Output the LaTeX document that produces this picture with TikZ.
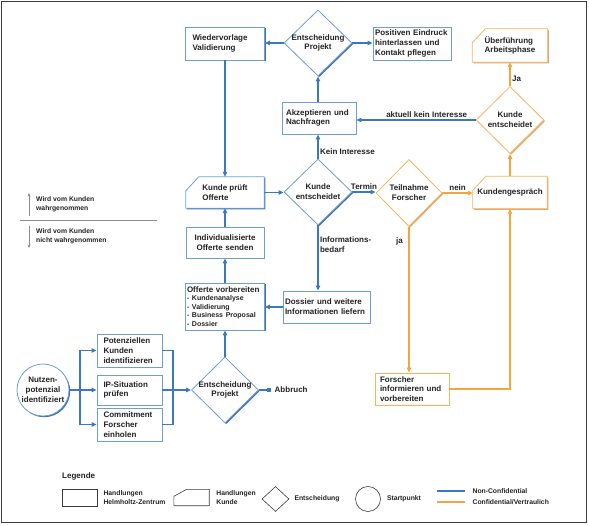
\documentclass[tikz,border=0pt]{standalone}
\usepackage{fontspec}
\setmainfont{Liberation Sans}
\usetikzlibrary{shapes.geometric, arrows.meta, shadows, backgrounds, positioning}

\definecolor{hzline}{HTML}{6F9ED3}
\definecolor{hzshade}{HTML}{3E73AF}
\definecolor{hzflow}{HTML}{3A79BD}
\definecolor{cfline}{HTML}{F6B45E}
\definecolor{cfshade}{HTML}{D9AB78}
\definecolor{cfflow}{HTML}{F4A63E}
\definecolor{txt}{HTML}{222222}
\definecolor{rahmen}{HTML}{3C3C3C}
\definecolor{hint}{HTML}{8C8C8C}

\begin{document}
\begin{tikzpicture}[
	x = 1pt, y = -1pt,
	every node/.style = {text = txt, font = \fontsize{8}{9.8}\selectfont\bfseries},
	formbase/.style = {fill = white, line width = 0.8pt},
	hz/.style = {formbase, draw = hzline, general shadow = {shadow xshift = 1.2pt, shadow yshift = -1.2pt, fill = hzshade}},
	cf/.style = {formbase, draw = cfline, general shadow = {shadow xshift = 1.2pt, shadow yshift = -1.2pt, fill = cfshade}},
	kasten/.style = {rectangle, align = left, inner ysep = 0pt},
	kunde/.style = {rectangle, align = left, inner sep = 0pt},
	decision/.style = {diamond, align = center, inner sep = -6pt, minimum width = 68pt, minimum height = 67pt},
	hzarrow/.style = {draw = hzflow, line width = 1.2pt, -{Triangle[length = 5pt, width = 4.5pt]}},
	cfarrow/.style = {hzarrow, draw = cfflow},
	lbl/.style = {inner sep = 1.5pt},
	legtext/.style = {align = left, inner sep = 0pt, font = \fontsize{6.8}{8.5}\selectfont\bfseries}
	]
	\useasboundingbox (0,0) rectangle (589,526);
	\draw[rahmen, line width = 1.5pt] (1.5,1.5) rectangle (586.5,522.5);

	% Blue part
	\node[hz, kasten, text width = 65pt, inner xsep = 7pt, minimum height = 33pt] (wv) at (225,43.5) {Wiedervorlage\\Validierung};
	\node[hz, decision, minimum height = 66pt] (ep1) at (318,43) {Entscheidung\\Projekt};
	\node[hz, kasten, text width = 74pt, inner xsep = 2pt, minimum height = 33pt] (pe) at (412,43.5) {Positiven Eindruck\\hinterlassen und\\Kontakt pflegen};
	\node[hz, kasten, text width = 66pt, inner xsep = 4pt, minimum height = 32pt] (ak) at (319,118) {Akzeptieren und\\Nachfragen};
	\node[kunde, minimum width = 78pt, minimum height = 31pt] (kp) at (225,192.5) {Kunde prüft\\Offerte};
	\node[hz, decision, minimum height = 66pt] (ke1) at (318,192) {Kunde\\entscheidet};
	\node[hz, kasten, align = center, text width = 70pt, inner xsep = 4pt, minimum height = 31pt] (io) at (225,242.5) {Individualisierte\\Offerte senden};
	\node[hz, kasten, text width = 76pt, inner xsep = 1.5pt, minimum height = 47pt, font = \fontsize{8}{8.4}\selectfont\bfseries] (ov) at (225,306.5) {Offerte vorbereiten\\\fontsize{7}{8.4}\selectfont - Kundenanalyse\\- Validierung\\- Business Proposal\\- Dossier};
	\node[hz, kasten, text width = 83pt, inner xsep = 2pt, minimum height = 32pt] (ds) at (326.5,307) {Dossier und weitere\\Informationen liefern};
	\node[hz, decision, minimum width = 67pt, minimum height = 66pt] (ep2) at (225,390) {Entscheidung\\Projekt};
	\node[hz, kasten, text width = 52pt, inner xsep = 6.5pt, minimum height = 33pt] (pk) at (129.5,350.5) {Potenziellen\\Kunden\\identifizieren};
	\node[hz, kasten, text width = 52pt, inner xsep = 6.5pt, minimum height = 30pt] (ip) at (129.5,390) {IP-Situation\\prüfen};
	\node[hz, kasten, text width = 52pt, inner xsep = 6.5pt, minimum height = 33pt] (cm) at (129.5,424.5) {Commitment\\Forscher\\einholen};
	\node[hz, circle, align = center, inner sep = 0pt, minimum size = 52pt] (nz) at (43,390) {Nutzen-\\potenzial\\identifiziert};

	% Orange part
	\node[kunde, minimum width = 75pt, minimum height = 33pt] (ua) at (510,45.5) {Überführung\\Arbeitsphase};
	\node[cf, decision] (ke2) at (510,120) {Kunde\\entscheidet};
	\node[cf, decision, minimum width = 66pt] (tf) at (409,193) {Teilnahme\\Forscher};
	\node[kunde, minimum width = 74pt, minimum height = 32pt] (kg) at (510,192.5) {Kundengespräch};
	\node[cf, kasten, text width = 64pt, inner xsep = 5pt, minimum height = 32pt] (fi) at (412,389) {Forscher\\informieren und\\vorbereiten};

	\begin{scope}[on background layer]
		\draw[hz] ([yshift = -14pt]kp.north west) -- ([xshift = 13pt]kp.north west) -- (kp.north east) -- (kp.south east) -- (kp.south west) -- cycle;
		\foreach \n in {ua, kg}
			\draw[cf] ([yshift = -14pt]\n.north west) -- ([xshift = 13pt]\n.north west) -- (\n.north east) -- (\n.south east) -- (\n.south west) -- cycle;
	\end{scope}

	\draw[hzarrow] (ep1.west) -- (ep1.west -| wv.east);
	\draw[hzarrow] (ep1.east) -- (ep1.east -| pe.west);
	\draw[hzarrow] (ep1.south |- ak.north) -- (ep1.south);
	\draw[hzarrow] (ke2.west) -- node[lbl, above, pos = 0.41] {aktuell kein Interesse} (ke2.west -| ak.east);
	\draw[hzarrow] (ke1.north) -- node[lbl, right, pos = 0.3] {Kein Interesse} (ke1.north |- ak.south);
	\draw[hzarrow] (wv.south) -- (kp.north);
	\draw[hzarrow] (io.north) -- (kp.south);
	\draw[hzarrow] (ov.north) -- (io.south);
	\draw[hzarrow] (ep2.north) -- (ov.south);
	\draw[hzarrow] (kp.east) -- (kp.east -| ke1.west);
	\draw[hzarrow] (ke1.east) -- node[lbl, above] {Termin} (ke1.east -| tf.west);
	\draw[hzarrow] (ke1.south) -- node[lbl, right, align = left, pos = 0.3] {Informations-\\bedarf} (ke1.south |- ds.north);
	\draw[hzarrow] (ds.west) -- (ds.west -| ov.east);

	\node[lbl, anchor = west] (ab) at (273,390) {Abbruch};
	\draw[hzarrow, -{Square[length = 4pt, width = 4pt]}, shorten > = 2pt] (ep2.east) -- (ab.west);

	\coordinate (fl) at (80,390);
	\coordinate (fr) at (173,390);
	\draw[hzarrow, -] (nz.east) -- (fl);
	\draw[hzarrow] (fl) |- (pk.west);
	\draw[hzarrow] (fl) -- (ip.west);
	\draw[hzarrow] (fl) |- (cm.west);
	\draw[hzarrow, -] (pk.east) -| (fr) |- (cm.east);
	\draw[hzarrow] (ip.east) -- (ep2.west);

	\draw[cfarrow] (tf.east) -- node[lbl, above] {nein} (tf.east -| kg.west);
	\draw[cfarrow] (kg.north) -- (ke2.south);
	\draw[cfarrow] (ke2.north) -- node[lbl, right, pos = 0.3] {Ja} (ua.south);
	\draw[cfarrow] (tf.south) -- node[lbl, left = 4pt, pos = 0.1] {ja} (tf.south |- fi.north);
	\draw[cfarrow] (fi.east) -| (kg.south);

	% wahrgenommen / nicht wahrgenommen
	\node[legtext, anchor = west, font = \fontsize{6.8}{9}\selectfont\bfseries] (wk) at (36,204.5) {Wird vom Kunden\\wahrgenommen};
	\node[legtext, anchor = west, font = \fontsize{6.8}{9}\selectfont\bfseries] (nwk) at (36,236.5) {Wird vom Kunden\\nicht wahrgenommen};
	\draw[hint, line width = 0.6pt, -{Stealth[length = 3.5pt, width = 3pt]}] (29,216) -- (29,193);
	\draw[hint, line width = 0.6pt, -{Stealth[length = 3.5pt, width = 3pt]}] (29,226) -- (29,248);
	\draw[hint, line width = 1pt] (20,221) -- (157,221);

	% Legende
	\node[anchor = west, inner sep = 0pt] (leg) at (62,476) {Legende};
	\node[draw = rahmen, line width = 0.6pt, minimum width = 35pt, minimum height = 17pt, inner sep = 0pt] (lg1) at (79.5,497.5) {};
	\node[legtext, right = 6pt of lg1] (lt1) {Handlungen\\Helmholtz-Zentrum};
	\node[minimum width = 35pt, minimum height = 16pt, inner sep = 0pt] (lg2) at (191.5,497.5) {};
	\draw[rahmen, line width = 0.6pt] ([yshift = -7pt]lg2.north west) -- ([xshift = 13pt]lg2.north west) -- (lg2.north east) -- (lg2.south east) -- (lg2.south west) -- cycle;
	\node[legtext, right = 7pt of lg2] (lt2) {Handlungen\\Kunde};
	\node[diamond, draw = rahmen, line width = 0.6pt, minimum width = 27pt, minimum height = 25pt, inner sep = 0pt] (lg3) at (275.5,499) {};
	\node[legtext, right = 5pt of lg3] (lt3) {Entscheidung};
	\node[circle, draw = rahmen, line width = 0.6pt, minimum size = 25pt, inner sep = 0pt] (lg4) at (368,499) {};
	\node[legtext, right = 6pt of lg4] (lt4) {Startpunkt};
	\coordinate (lg5) at (437,491);
	\coordinate (lg6) at (437,502);
	\draw[hzflow, line width = 1.2pt] (lg5) -- ++(28,0) node[legtext, right = 7pt] (lt5) {Non-Confidential};
	\draw[cfflow, line width = 1.2pt] (lg6) -- ++(28,0) node[legtext, right = 7pt] (lt6) {Confidential/Vertraulich};
\end{tikzpicture}
\end{document}
